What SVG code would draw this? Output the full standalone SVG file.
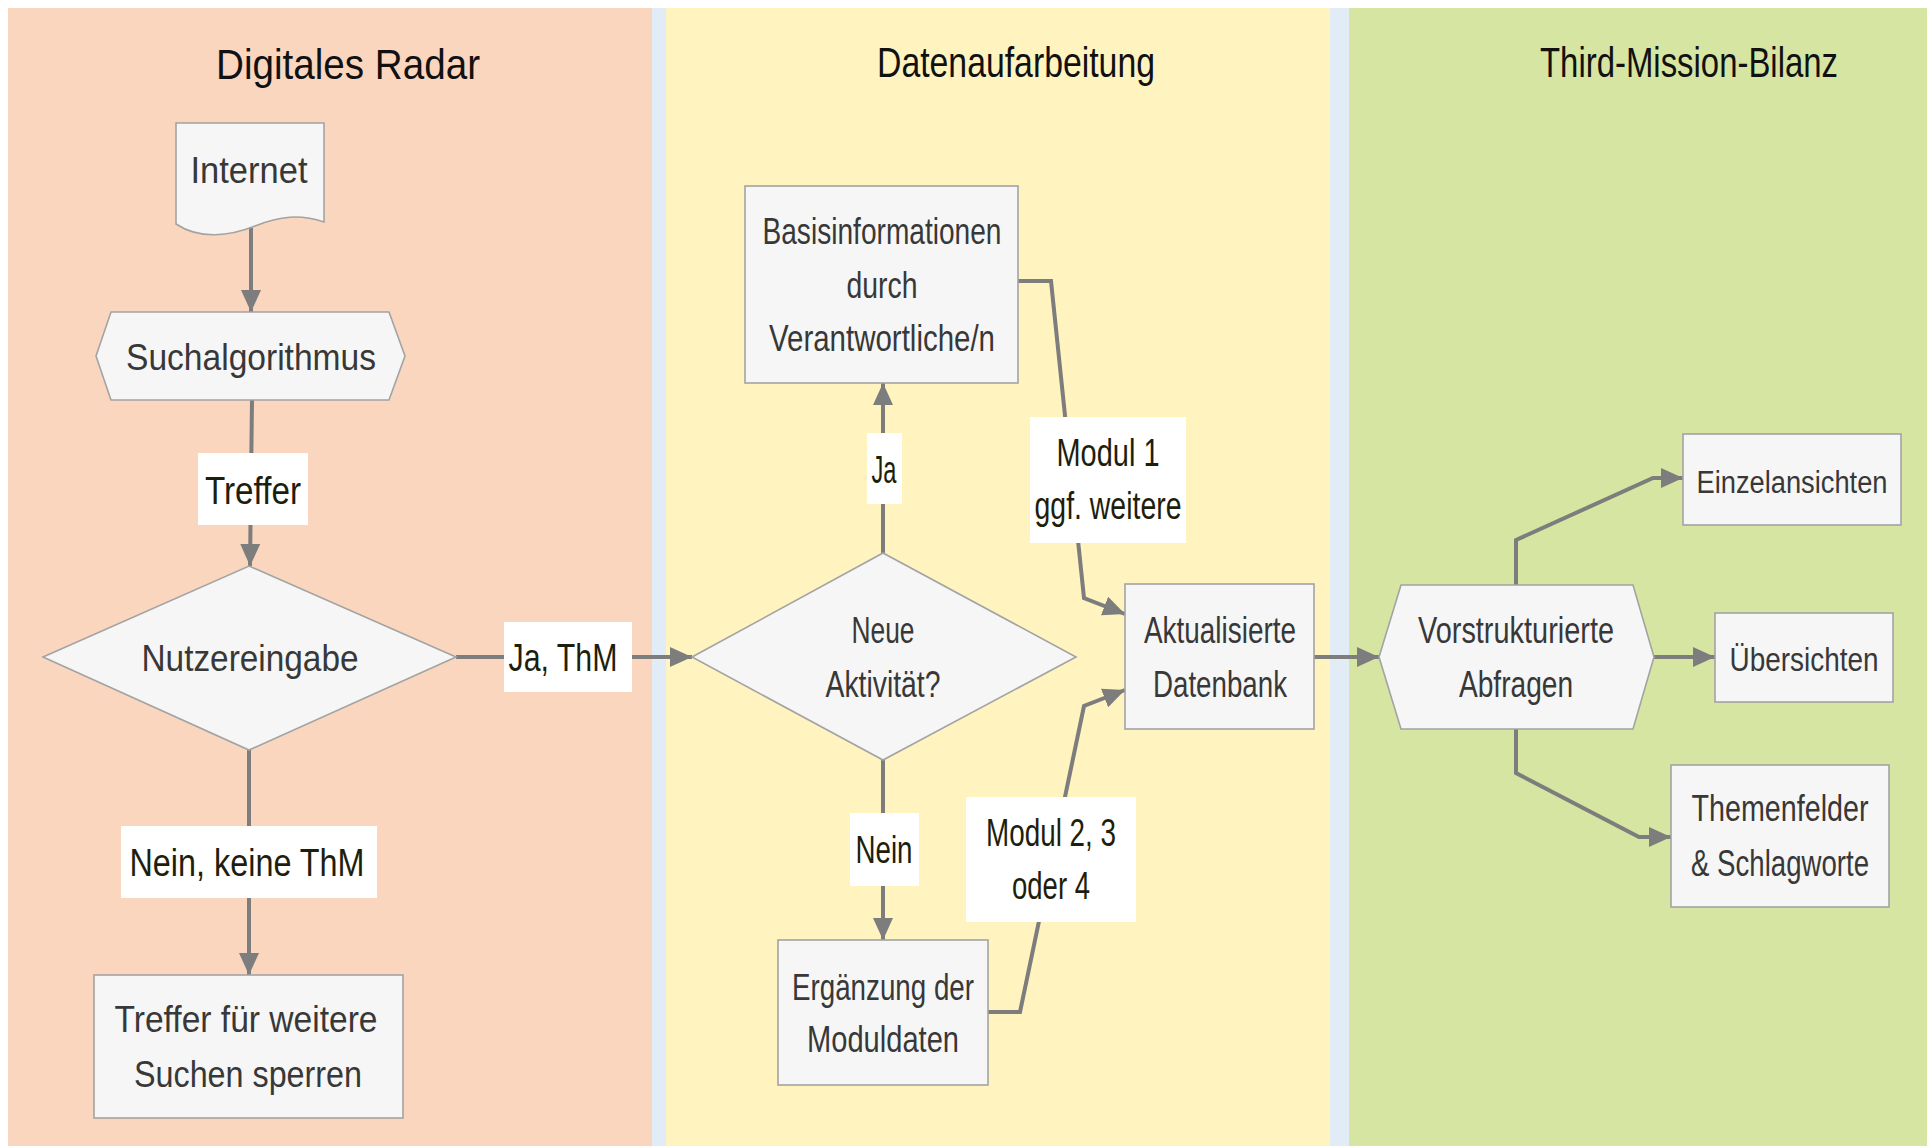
<svg xmlns="http://www.w3.org/2000/svg" width="1932" height="1148" viewBox="0 0 1932 1148">
<style>
.node{fill:#f6f6f6;stroke:#a3a3a3;stroke-width:1.6}
.t{font-family:"Liberation Sans",Arial,sans-serif;font-size:36px;fill:#383838;text-anchor:middle}
.title{font-family:"Liberation Sans",Arial,sans-serif;font-size:42px;fill:#111;text-anchor:middle}
.lt{font-family:"Liberation Sans",Arial,sans-serif;font-size:38px;fill:#1e1e0c;text-anchor:middle}
.edge{fill:none;stroke:#7d7d7d;stroke-width:4;stroke-linejoin:miter}
.lbl{fill:#ffffff;stroke:none}
</style>
<defs>
<marker id="arr" markerUnits="userSpaceOnUse" markerWidth="24" markerHeight="22" refX="22" refY="10" orient="auto" viewBox="0 0 24 20">
<path d="M0,0 L22,10 L0,20 Z" fill="#7d7d7d"/>
</marker>
</defs>
<rect x="0" y="0" width="1932" height="1148" fill="#ffffff"/>
<g id="lanes">
<rect x="8" y="8" width="1919" height="1138" fill="#e2ecf7"/>
<rect x="8" y="8" width="644" height="1138" fill="#fbd6be"/>
<rect x="666" y="8" width="664" height="1138" fill="#fff3bf"/>
<rect x="1349" y="8" width="578" height="1138" fill="#d6e5a1"/>
<text class="title" x="348" y="79" textLength="264" lengthAdjust="spacingAndGlyphs">Digitales Radar</text>
<text class="title" x="1016" y="77" textLength="278" lengthAdjust="spacingAndGlyphs">Datenaufarbeitung</text>
<text class="title" x="1689" y="77" textLength="298" lengthAdjust="spacingAndGlyphs">Third-Mission-Bilanz</text>
</g>
<g id="connectors">
<path class="edge" d="M251,228 L251,312" marker-end="url(#arr)"/>
<path class="edge" d="M252,400 L250,566" marker-end="url(#arr)"/>
<path class="edge" d="M249,750 L249,975" marker-end="url(#arr)"/>
<path class="edge" d="M456,657 L692,657" marker-end="url(#arr)"/>
<path class="edge" d="M883,553 L883,383" marker-end="url(#arr)"/>
<path class="edge" d="M883,760 L883,940" marker-end="url(#arr)"/>
<path class="edge" d="M1018,281 L1051,281 L1084,598 L1125,614" marker-end="url(#arr)"/>
<path class="edge" d="M988,1012 L1020,1012 L1084,706 L1125,690" marker-end="url(#arr)"/>
<path class="edge" d="M1314,657 L1379,657" marker-end="url(#arr)"/>
<path class="edge" d="M1516,585 L1516,540 L1653,478 L1683,478" marker-end="url(#arr)"/>
<path class="edge" d="M1654,657 L1715,657" marker-end="url(#arr)"/>
<path class="edge" d="M1516,729 L1516,773 L1639,837 L1671,837" marker-end="url(#arr)"/>
<rect class="lbl" x="198" y="453" width="110" height="72"/>
<text class="lt" x="253" y="504" textLength="96" lengthAdjust="spacingAndGlyphs">Treffer</text>
<rect class="lbl" x="504" y="622" width="128" height="70"/>
<text class="lt" x="563" y="671" textLength="109" lengthAdjust="spacingAndGlyphs">Ja, ThM</text>
<rect class="lbl" x="121" y="826" width="256" height="72"/>
<text class="lt" x="247" y="876" textLength="235" lengthAdjust="spacingAndGlyphs">Nein, keine ThM</text>
<rect class="lbl" x="867" y="433" width="35" height="71"/>
<text class="lt" x="884" y="483" textLength="25" lengthAdjust="spacingAndGlyphs">Ja</text>
<rect class="lbl" x="1030" y="417" width="156" height="126"/>
<text class="lt" x="1108" y="466" textLength="103" lengthAdjust="spacingAndGlyphs">Modul 1</text>
<text class="lt" x="1108" y="519" textLength="147" lengthAdjust="spacingAndGlyphs">ggf. weitere</text>
<rect class="lbl" x="850" y="813" width="69" height="73"/>
<text class="lt" x="884" y="863" textLength="57" lengthAdjust="spacingAndGlyphs">Nein</text>
<rect class="lbl" x="966" y="797" width="170" height="125"/>
<text class="lt" x="1051" y="846" textLength="130" lengthAdjust="spacingAndGlyphs">Modul 2, 3</text>
<text class="lt" x="1051" y="899" textLength="78" lengthAdjust="spacingAndGlyphs">oder 4</text>
</g>
<g id="internet">
<path class="node" d="M176,123 L324,123 L324,222 C300,214 280,216 255,226 C230,236 200,240 176,224 Z"/>
<text class="t" x="249" y="183" textLength="117" lengthAdjust="spacingAndGlyphs">Internet</text>
</g>
<g id="suchalgorithmus">
<polygon class="node" points="96,356 111,312 389,312 405,356 389,400 111,400"/>
<text class="t" x="251" y="370" textLength="250" lengthAdjust="spacingAndGlyphs">Suchalgorithmus</text>
</g>
<g id="nutzereingabe">
<polygon class="node" points="43,657 249,566 456,657 249,750"/>
<text class="t" x="250" y="671" textLength="217" lengthAdjust="spacingAndGlyphs">Nutzereingabe</text>
</g>
<g id="sperren">
<rect class="node" x="94" y="975" width="309" height="143"/>
<text class="t" x="246" y="1032" textLength="263" lengthAdjust="spacingAndGlyphs">Treffer für weitere</text>
<text class="t" x="248" y="1087" textLength="228" lengthAdjust="spacingAndGlyphs">Suchen sperren</text>
</g>
<g id="basisinformationen">
<rect class="node" x="745" y="186" width="273" height="197"/>
<text class="t" x="882" y="244" textLength="239" lengthAdjust="spacingAndGlyphs">Basisinformationen</text>
<text class="t" x="882" y="298" textLength="71" lengthAdjust="spacingAndGlyphs">durch</text>
<text class="t" x="882" y="351" textLength="226" lengthAdjust="spacingAndGlyphs">Verantwortliche/n</text>
</g>
<g id="neue-aktivitaet">
<polygon class="node" points="692,657 883,553 1076,657 883,760"/>
<text class="t" x="883" y="643" textLength="63" lengthAdjust="spacingAndGlyphs">Neue</text>
<text class="t" x="883" y="697" textLength="115" lengthAdjust="spacingAndGlyphs">Aktivität?</text>
</g>
<g id="ergaenzung">
<rect class="node" x="778" y="940" width="210" height="145"/>
<text class="t" x="883" y="1000" textLength="182" lengthAdjust="spacingAndGlyphs">Ergänzung der</text>
<text class="t" x="883" y="1052" textLength="152" lengthAdjust="spacingAndGlyphs">Moduldaten</text>
</g>
<g id="datenbank">
<rect class="node" x="1125" y="584" width="189" height="145"/>
<text class="t" x="1220" y="643" textLength="152" lengthAdjust="spacingAndGlyphs">Aktualisierte</text>
<text class="t" x="1220" y="697" textLength="134" lengthAdjust="spacingAndGlyphs">Datenbank</text>
</g>
<g id="abfragen">
<polygon class="node" points="1379,657 1401,585 1633,585 1654,657 1633,729 1401,729"/>
<text class="t" x="1516" y="643" textLength="196" lengthAdjust="spacingAndGlyphs">Vorstrukturierte</text>
<text class="t" x="1516" y="697" textLength="114" lengthAdjust="spacingAndGlyphs">Abfragen</text>
</g>
<g id="einzelansichten">
<rect class="node" x="1683" y="434" width="218" height="91"/>
<text class="t" x="1792" y="493" style="font-size:31px" textLength="191" lengthAdjust="spacingAndGlyphs">Einzelansichten</text>
</g>
<g id="uebersichten">
<rect class="node" x="1715" y="613" width="178" height="89"/>
<text class="t" x="1804" y="671" style="font-size:34px" textLength="149" lengthAdjust="spacingAndGlyphs">Übersichten</text>
</g>
<g id="themenfelder">
<rect class="node" x="1671" y="765" width="218" height="142"/>
<text class="t" x="1780" y="821" textLength="177" lengthAdjust="spacingAndGlyphs">Themenfelder</text>
<text class="t" x="1780" y="876" textLength="178" lengthAdjust="spacingAndGlyphs">&amp; Schlagworte</text>
</g>
</svg>
